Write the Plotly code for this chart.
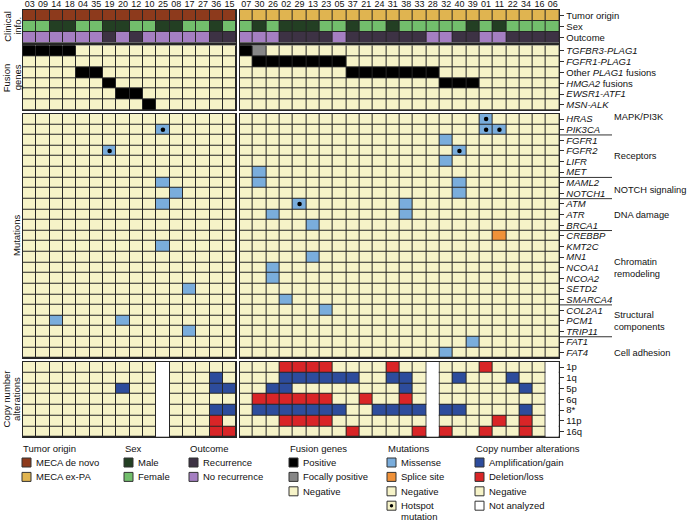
import plotly.graph_objects as go

W, H = 690, 521

# ---------------- data ----------------
samples_left = ["03", "09", "14", "18", "04", "35", "19", "20", "12", "10", "25", "08", "17", "27", "36", "15"]
samples_right = ["07", "30", "26", "02", "29", "13", "23", "05", "37", "21", "24", "31", "38", "33", "28", "32",
                 "40", "39", "01", "11", "22", "34", "16", "06"]

clinical_rows = ["Tumor origin", "Sex", "Outcome"]
origin_left = ["MECA de novo"] * 16
origin_right = ["MECA ex-PA"] * 24
sex_left = ["Female", "Female", "Male", "Male", "Female", "Female", "Male", "Male", "Female", "Female", "Male",
            "Male", "Female", "Female", "Male", "Female"]
sex_right = ["Female", "Male", "Female", "Male", "Male", "Male", "Female", "Female", "Male", "Female", "Female",
             "Male", "Female", "Female", "Female", "Female", "Female", "Male", "Female", "Male", "Female", "Female",
             "Female", "Female"]
outcome_left = ["No recurrence", "No recurrence", "No recurrence", "No recurrence", "No recurrence", "No recurrence",
                "Recurrence", "No recurrence", "Recurrence", "No recurrence", "No recurrence", "No recurrence",
                "No recurrence", "No recurrence", "Recurrence", "Recurrence"]
outcome_right = ["No recurrence", "No recurrence", "No recurrence", "Recurrence", "Recurrence", "Recurrence",
                 "Recurrence", "No recurrence", "Recurrence", "Recurrence", "Recurrence", "Recurrence", "Recurrence",
                 "Recurrence", "No recurrence", "No recurrence", "Recurrence", "Recurrence", "No recurrence",
                 "No recurrence", "Recurrence", "Recurrence", "Recurrence", "Recurrence"]

fusion_rows = ["TGFBR3-PLAG1", "FGFR1-PLAG1", "Other PLAG1 fusions", "HMGA2 fusions", "EWSR1-ATF1", "MSN-ALK"]
fusion_labels = ["<i>TGFBR3-PLAG1</i>", "<i>FGFR1-PLAG1</i>", "Other <i>PLAG1</i> fusions", "<i>HMGA2</i> fusions",
                 "<i>EWSR1-ATF1</i>", "<i>MSN-ALK</i>"]
fusion_left = ["TGFBR3-PLAG1", "TGFBR3-PLAG1", "TGFBR3-PLAG1", "TGFBR3-PLAG1", "Other PLAG1 fusions",
               "Other PLAG1 fusions", "HMGA2 fusions", "EWSR1-ATF1", "EWSR1-ATF1", "MSN-ALK", "", "", "", "", "", ""]
fusion_right = ["TGFBR3-PLAG1", "FGFR1-PLAG1", "FGFR1-PLAG1", "FGFR1-PLAG1", "FGFR1-PLAG1", "FGFR1-PLAG1",
                "FGFR1-PLAG1", "FGFR1-PLAG1", "Other PLAG1 fusions", "Other PLAG1 fusions", "Other PLAG1 fusions",
                "Other PLAG1 fusions", "Other PLAG1 fusions", "Other PLAG1 fusions", "Other PLAG1 fusions",
                "HMGA2 fusions", "HMGA2 fusions", "HMGA2 fusions", "", "", "", "", "", ""]
focal_samples = ["30"]
focal_fusions = ["TGFBR3-PLAG1"]

mutation_genes = ["HRAS", "PIK3CA", "FGFR1", "FGFR2", "LIFR", "MET", "MAML2", "NOTCH1", "ATM", "ATR", "BRCA1",
                  "CREBBP", "KMT2C", "MN1", "NCOA1", "NCOA2", "SETD2", "SMARCA4", "COL2A1", "PCM1", "TRIP11",
                  "FAT1", "FAT4"]
pathway_names = ["MAPK/PI3K", "Receptors", "NOTCH signaling", "DNA damage", "Chromatin<br>remodeling",
                 "Structural<br>components", "Cell adhesion"]
pathway_sizes = [2, 4, 2, 3, 7, 3, 2]
pathway_label_row = [-0.2, 3.5, 6.7, 9, 14, 19, 22]

mut_sample = ["25", "25", "25", "25", "19", "08", "17", "17", "14", "20",
              "32", "32", "32", "40", "40", "40", "30", "30", "29", "26", "26", "26",
              "38", "38", "13", "13", "02", "23", "39", "01", "01", "11", "11"]
mut_gene = ["PIK3CA", "MAML2", "ATM", "KMT2C", "FGFR2", "NOTCH1", "SETD2", "TRIP11", "PCM1", "PCM1",
            "FGFR1", "LIFR", "FAT4", "FGFR2", "MAML2", "NOTCH1", "MET", "MAML2", "ATM", "ATR", "NCOA1", "NCOA2",
            "ATM", "ATR", "BRCA1", "MN1", "SMARCA4", "COL2A1", "FAT1", "HRAS", "PIK3CA", "PIK3CA", "CREBBP"]
mut_type = ["Missense"] * 32 + ["Splice site"]
mut_hotspot = [True, False, False, False, True, False, False, False, False, False,
               False, False, False, True, False, False, False, False, True, False, False, False,
               False, False, False, False, False, False, False, True, True, True, False]

cna_arms = ["1p", "1q", "5p", "6q", "8*", "11p", "16q"]
cna_gain_arm = ["1q"] * 11 + ["5p"] * 7 + ["8*"] * 16
cna_gain_sample = ["36", "02", "29", "13", "23", "05", "37", "31", "38", "40", "22",
                   "20", "36", "15", "26", "02", "38", "34",
                   "36", "15", "30", "26", "02", "29", "13", "23", "05", "24", "31", "38", "33", "32", "40", "34"]
cna_loss_arm = ["1p"] * 6 + ["6q"] * 8 + ["11p"] * 7 + ["16q"] * 7
cna_loss_sample = ["02", "29", "13", "23", "31", "01",
                   "30", "26", "02", "29", "13", "23", "21", "38",
                   "36", "02", "29", "13", "23", "11", "34",
                   "36", "15", "37", "33", "32", "01", "34"]
cna_not_analyzed = ["25", "28", "06"]

# ---------------- colours ----------------
COLORS = {
    "neg": "#F6F3C8", "na": "#FFFFFF", "pos": "#000000", "focal": "#878787",
    "Missense": "#7AADDC", "Splice site": "#EF9139", "gain": "#2D4C9C", "loss": "#D92527",
    "MECA de novo": "#8D3A1C", "MECA ex-PA": "#E0B450", "Male": "#233F23", "Female": "#72BE6C",
    "Recurrence": "#3D3244", "No recurrence": "#A57FC2",
}
keys = list(COLORS.keys())
code = {k: i for i, k in enumerate(keys)}
n = len(keys)
cscale = []
for i, k in enumerate(keys):
    cscale.append([i / n, COLORS[k]])
    cscale.append([(i + 1) / n, COLORS[k]])
LINE = "#262626"
FONT = "Liberation Sans, Arial, Helvetica, sans-serif"


def clin_z(origin, sex, outcome):
    return [[code[v] for v in origin], [code[v] for v in sex], [code[v] for v in outcome]]


def fusion_z(samples, fus):
    z = []
    for r in fusion_rows:
        row = []
        for s, f in zip(samples, fus):
            if f == r:
                row.append(code["pos"])
            elif any(fs == s and ff == r for fs, ff in zip(focal_samples, focal_fusions)):
                row.append(code["focal"])
            else:
                row.append(code["neg"])
        z.append(row)
    return z


def mut_z(samples):
    z = [[code["neg"]] * len(samples) for _ in mutation_genes]
    for s, g, t in zip(mut_sample, mut_gene, mut_type):
        if s in samples:
            z[mutation_genes.index(g)][samples.index(s)] = code[t]
    return z


def cna_z(samples):
    z = [[code["na"] if s in cna_not_analyzed else code["neg"] for s in samples] for _ in cna_arms]
    for a, s in zip(cna_gain_arm, cna_gain_sample):
        if s in samples:
            z[cna_arms.index(a)][samples.index(s)] = code["gain"]
    for a, s in zip(cna_loss_arm, cna_loss_sample):
        if s in samples:
            z[cna_arms.index(a)][samples.index(s)] = code["loss"]
    return z


def cna_na_z(samples):
    return [[code["na"] if s in cna_not_analyzed else None for s in samples] for _ in cna_arms]


# ---------------- geometry (pixels) ----------------
blocks = [(samples_left, 23.0, 236.2), (samples_right, 239.6, 559.4)]
groups = [
    ("clin", clinical_rows, clinical_rows, 10.0, 42.7),
    ("fus", fusion_rows, fusion_labels, 45.3, 110.3),
    ("mut", mutation_genes, ["<i>%s</i>" % g for g in mutation_genes], 113.7, 358.0),
    ("cna", cna_arms, cna_arms, 361.7, 437.0),
]

fig = go.Figure()
layout_axes = {}
k = 0
mut_right_axis = None
for gname, rows, labels, ytop, ybot in groups:
    for bi, (samples, x0, x1) in enumerate(blocks):
        k += 1
        xa = "x" if k == 1 else "x%d" % k
        ya = "y" if k == 1 else "y%d" % k
        if gname == "clin":
            if bi == 0:
                z = clin_z(origin_left, sex_left, outcome_left)
            else:
                z = clin_z(origin_right, sex_right, outcome_right)
        elif gname == "fus":
            z = fusion_z(samples, fusion_left if bi == 0 else fusion_right)
        elif gname == "mut":
            z = mut_z(samples)
        else:
            z = cna_z(samples)
        fig.add_trace(go.Heatmap(z=z, x=samples, y=rows, colorscale=cscale, zmin=-0.5, zmax=n - 0.5,
                                 showscale=False, xgap=1, ygap=1, hoverinfo="skip", xaxis=xa, yaxis=ya))
        if gname == "cna":
            # not-analysed samples drawn as one continuous white column
            fig.add_trace(go.Heatmap(z=cna_na_z(samples), x=samples, y=rows, colorscale=cscale, zmin=-0.5,
                                     zmax=n - 0.5, showscale=False, xgap=1, ygap=0, hoverinfo="skip",
                                     xaxis=xa, yaxis=ya))
        if gname == "mut":
            hx = [s for s, g, h in zip(mut_sample, mut_gene, mut_hotspot) if h and s in samples]
            hy = [g for s, g, h in zip(mut_sample, mut_gene, mut_hotspot) if h and s in samples]
            fig.add_trace(go.Scatter(x=hx, y=hy, mode="markers", hoverinfo="skip", showlegend=False,
                                     marker=dict(symbol="circle", size=4.5, color="black"),
                                     xaxis=xa, yaxis=ya))
            if bi == 1:
                mut_right_axis = ya
        xkey = "xaxis" if k == 1 else "xaxis%d" % k
        ykey = "yaxis" if k == 1 else "yaxis%d" % k
        layout_axes[xkey] = dict(
            domain=[x0 / W, x1 / W], anchor=ya, type="category", categoryorder="array", categoryarray=samples,
            range=[-0.5, len(samples) - 0.5], showline=True, mirror=True, linecolor=LINE, linewidth=1,
            showgrid=False, zeroline=False, ticks="", side="top", showticklabels=(gname == "clin"),
            ticklabelstandoff=-2, automargin=False, tickfont=dict(size=9, color="#111", family=FONT),
            fixedrange=True)
        layout_axes[ykey] = dict(
            domain=[1 - ybot / H, 1 - ytop / H], anchor=xa, type="category", categoryorder="array",
            categoryarray=rows, range=[len(rows) - 0.5, -0.5], showline=True, mirror=True, linecolor=LINE,
            linewidth=1, showgrid=False, zeroline=False, side="right", automargin=False,
            ticks="outside" if bi == 1 else "", ticklen=4, tickwidth=1, tickcolor="#333",
            showticklabels=(bi == 1), tickvals=rows, ticktext=labels,
            tickfont=dict(size=9.5, color="#111", family=FONT), fixedrange=True)

fig.update_layout(**layout_axes)

shapes = []
annotations = []
TXT = dict(size=9.5, color="#111", family=FONT)

# pathway separators and labels
bound = 0
for i, (pname, size) in enumerate(zip(pathway_names, pathway_sizes)):
    bound += size
    if i < len(pathway_sizes) - 1:
        shapes.append(dict(type="line", xref="paper", yref=mut_right_axis, x0=559.4 / W, x1=612 / W,
                           y0=bound - 0.5, y1=bound - 0.5, line=dict(color="#333", width=1)))
    annotations.append(dict(text=pname, xref="paper", yref=mut_right_axis, x=612 / W, y=pathway_label_row[i],
                            xanchor="left", yanchor="middle", showarrow=False, align="left",
                            font=dict(size=9.3, color="#111", family=FONT)))

# left group labels (one annotation per text line)
side_labels = [("Clinical", 7.5, 26.3), ("info.", 17.5, 26.3), ("Fusion", 6.5, 77.8), ("genes", 17.5, 77.8),
               ("Mutations", 16, 236), ("Copy number", 5.5, 399), ("alterations", 16, 399)]
for txt, xp, yp in side_labels:
    annotations.append(dict(text=txt, xref="paper", yref="paper", x=xp / W, y=1 - yp / H, textangle=-90,
                            showarrow=False, xanchor="center", yanchor="middle", font=TXT))

# legend
legend_titles = ["Tumor origin", "Sex", "Outcome", "Fusion genes", "Mutations", "Copy number alterations"]
legend_labels = [["MECA de novo", "MECA ex-PA"], ["Male", "Female"], ["Recurrence", "No recurrence"],
                 ["Positive", "Focally positive", "Negative"],
                 ["Missense", "Splice site", "Negative", "Hotspot"],
                 ["Amplification/gain", "Deletion/loss", "Negative", "Not analyzed"]]
legend_keys = [["MECA de novo", "MECA ex-PA"], ["Male", "Female"], ["Recurrence", "No recurrence"],
               ["pos", "focal", "neg"], ["Missense", "Splice site", "neg", "neg"],
               ["gain", "loss", "neg", "na"]]
legend_x = [22, 124, 189, 289, 387, 475]
title_y = 448
row_y0, row_dy = 462.5, 14.4
for j, title in enumerate(legend_titles):
    lx = legend_x[j]
    annotations.append(dict(text=title, xref="paper", yref="paper", x=(lx - 1) / W, y=1 - title_y / H,
                            xanchor="left", yanchor="middle", showarrow=False, font=TXT))
    for i, (lab, key) in enumerate(zip(legend_labels[j], legend_keys[j])):
        yy = row_y0 + row_dy * i
        shapes.append(dict(type="rect", xref="paper", yref="paper", x0=lx / W, x1=(lx + 9) / W,
                           y0=1 - (yy + 4.5) / H, y1=1 - (yy - 4.5) / H, fillcolor=COLORS[key],
                           line=dict(color="#333", width=1)))
        annotations.append(dict(text=lab, xref="paper", yref="paper", x=(lx + 12) / W, y=1 - yy / H,
                                xanchor="left", yanchor="middle", showarrow=False, font=TXT))
        if lab == "Hotspot":
            shapes.append(dict(type="circle", xref="paper", yref="paper", x0=(lx + 2.8) / W, x1=(lx + 6.2) / W,
                               y0=1 - (yy + 1.7) / H, y1=1 - (yy - 1.7) / H, fillcolor="black",
                               line=dict(color="black", width=0)))
            annotations.append(dict(text="mutation", xref="paper", yref="paper", x=(lx + 12) / W,
                                    y=1 - (yy + 11) / H, xanchor="left", yanchor="middle", showarrow=False,
                                    font=TXT))

fig.update_layout(
    width=W, height=H, margin=dict(l=0, r=0, t=0, b=0),
    paper_bgcolor="white", plot_bgcolor=LINE, showlegend=False,
    shapes=shapes, annotations=annotations,
    font=dict(family=FONT, size=9.5, color="#111"),
)

# remove the browser's default 8px body margin so the figure sits at the page origin
fig.write_html("out.html", config={"displayModeBar": False},
               post_script="document.body.style.margin='0';document.body.style.overflow='hidden';")
